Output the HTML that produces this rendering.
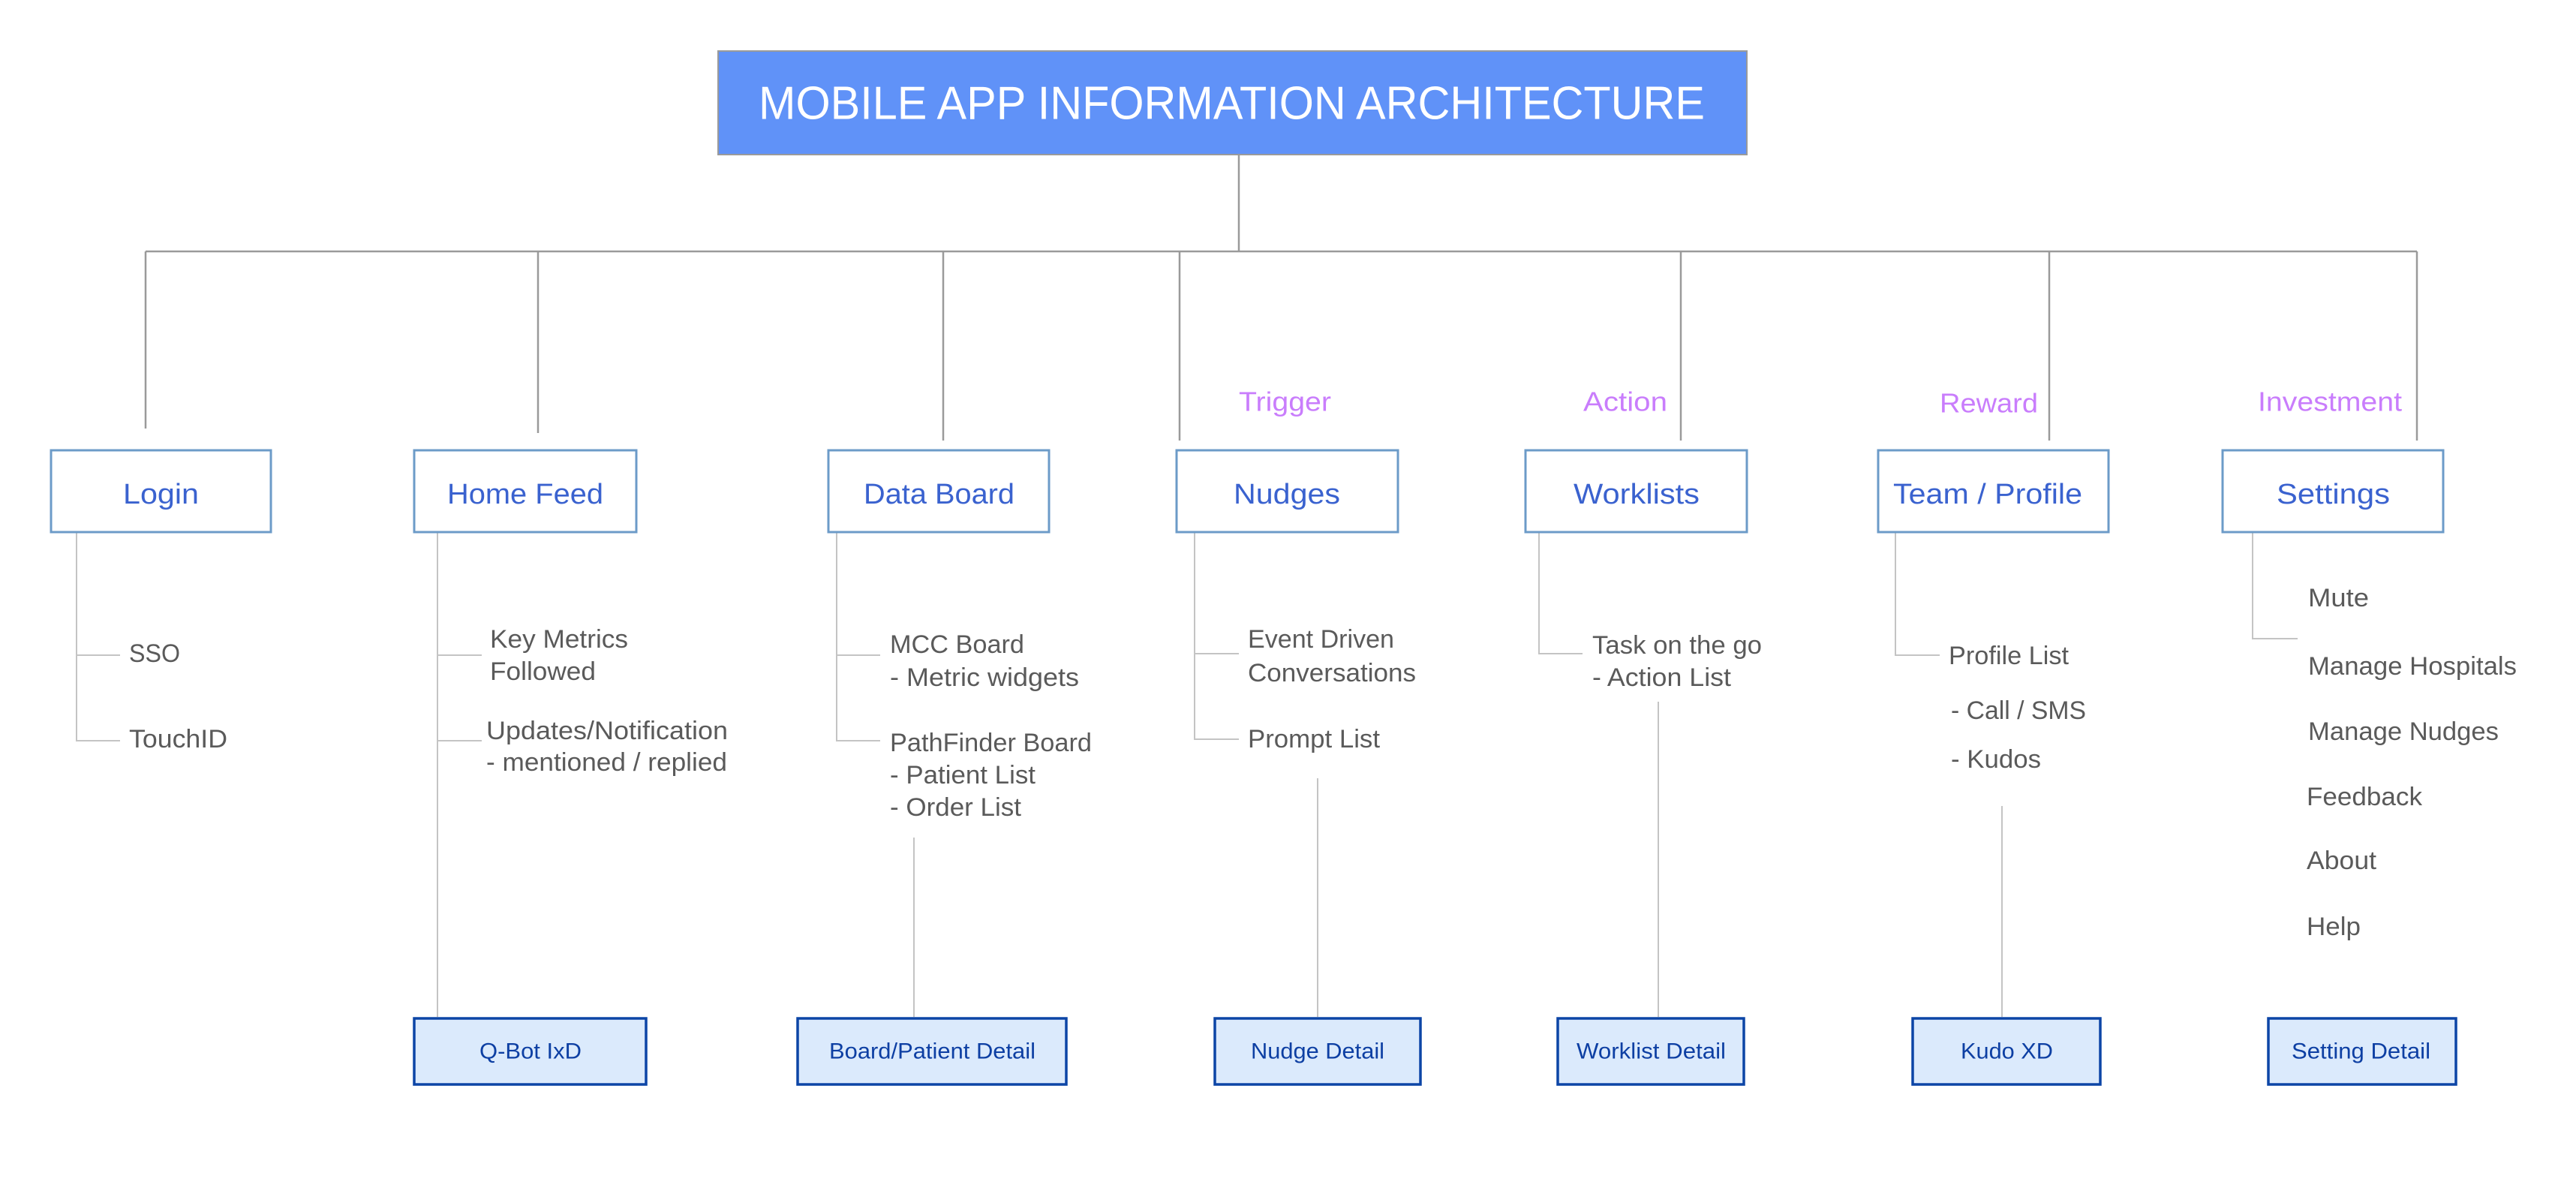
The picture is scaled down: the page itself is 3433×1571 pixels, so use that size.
<!DOCTYPE html>
<html><head><meta charset="utf-8"><style>html,body{margin:0;padding:0;background:#fff}svg{display:block}</style></head>
<body>
<svg xmlns="http://www.w3.org/2000/svg" width="3433" height="1571" viewBox="0 0 3433 1571" font-family="Liberation Sans, sans-serif">
<rect width="3433" height="1571" fill="#fff"/>
<!-- title -->
<rect x="957" y="68" width="1371" height="138" fill="#6092f8" stroke="#9a9a9a" stroke-width="2"/>
<text x="1011" y="138" dominant-baseline="central" font-size="62" fill="#fff" textLength="1261" lengthAdjust="spacingAndGlyphs">MOBILE APP INFORMATION ARCHITECTURE</text>
<g stroke="#9a9a9a" stroke-width="2.5" fill="none">
<path d="M1651 205V335M194 335H3221"/>
<path d="M194 335V571M717 335V577M1257 335V587M1572 335V587M2240 335V587M2731 335V587M3221 335V587"/>
</g>
<g stroke="#c4c4c4" stroke-width="2" fill="none">
<path d="M102 709V987H160M102 873H160"/>
<path d="M583 709V1355M583 873H642M583 987H642"/>
<path d="M1115 709V987H1173M1115 873H1173M1218 1116V1355"/>
<path d="M1592 709V985H1651M1592 871H1651M1756 1037V1355"/>
<path d="M2051 709V871H2109M2210 935V1355"/>
<path d="M2526 709V873H2585M2668 1074V1355"/>
<path d="M3002 709V851H3062"/>
</g>
<!-- main boxes -->
<g fill="#fff" stroke="#6c9bc8" stroke-width="3">
<rect x="68" y="600" width="293" height="109"/>
<rect x="552" y="600" width="296" height="109"/>
<rect x="1104" y="600" width="294" height="109"/>
<rect x="1568" y="600" width="295" height="109"/>
<rect x="2033" y="600" width="295" height="109"/>
<rect x="2503" y="600" width="307" height="109"/>
<rect x="2962" y="600" width="294" height="109"/>
</g>
<g font-size="38" fill="#3a62cf" dominant-baseline="central" lengthAdjust="spacingAndGlyphs">
<text x="164" y="659" textLength="101" lengthAdjust="spacingAndGlyphs">Login</text>
<text x="596" y="659" textLength="208" lengthAdjust="spacingAndGlyphs">Home Feed</text>
<text x="1151" y="659" textLength="201" lengthAdjust="spacingAndGlyphs">Data Board</text>
<text x="1644" y="659" textLength="142" lengthAdjust="spacingAndGlyphs">Nudges</text>
<text x="2097" y="659" textLength="168" lengthAdjust="spacingAndGlyphs">Worklists</text>
<text x="2523" y="659" textLength="252" lengthAdjust="spacingAndGlyphs">Team / Profile</text>
<text x="3034" y="659" textLength="151" lengthAdjust="spacingAndGlyphs">Settings</text>
</g>
<g font-size="36" fill="#c97dfc" dominant-baseline="central">
<text x="1651" y="535" textLength="123" lengthAdjust="spacingAndGlyphs">Trigger</text>
<text x="2110" y="535" textLength="112" lengthAdjust="spacingAndGlyphs">Action</text>
<text x="2585" y="537" textLength="131" lengthAdjust="spacingAndGlyphs">Reward</text>
<text x="3009" y="535" textLength="192" lengthAdjust="spacingAndGlyphs">Investment</text>
</g>
<g font-size="34" fill="#5a5a5a" dominant-baseline="central">
<text x="172" y="871" textLength="68" lengthAdjust="spacingAndGlyphs">SSO</text>
<text x="172" y="985" textLength="131" lengthAdjust="spacingAndGlyphs">TouchID</text>
<text x="653" y="852" textLength="184" lengthAdjust="spacingAndGlyphs">Key Metrics</text>
<text x="653" y="895" textLength="141" lengthAdjust="spacingAndGlyphs">Followed</text>
<text x="648" y="974" textLength="322" lengthAdjust="spacingAndGlyphs">Updates/Notification</text>
<text x="648" y="1016" textLength="321" lengthAdjust="spacingAndGlyphs">- mentioned / replied</text>
<text x="1186" y="859" textLength="179" lengthAdjust="spacingAndGlyphs">MCC Board</text>
<text x="1186" y="903" textLength="252" lengthAdjust="spacingAndGlyphs">- Metric widgets</text>
<text x="1186" y="990" textLength="269" lengthAdjust="spacingAndGlyphs">PathFinder Board</text>
<text x="1186" y="1033" textLength="194" lengthAdjust="spacingAndGlyphs">- Patient List</text>
<text x="1186" y="1076" textLength="175" lengthAdjust="spacingAndGlyphs">- Order List</text>
<text x="1663" y="852" textLength="195" lengthAdjust="spacingAndGlyphs">Event Driven</text>
<text x="1663" y="897" textLength="224" lengthAdjust="spacingAndGlyphs">Conversations</text>
<text x="1663" y="985" textLength="176" lengthAdjust="spacingAndGlyphs">Prompt List</text>
<text x="2122" y="860" textLength="226" lengthAdjust="spacingAndGlyphs">Task on the go</text>
<text x="2122" y="903" textLength="185" lengthAdjust="spacingAndGlyphs">- Action List</text>
<text x="2597" y="874" textLength="160" lengthAdjust="spacingAndGlyphs">Profile List</text>
<text x="2600" y="947" textLength="180" lengthAdjust="spacingAndGlyphs">- Call / SMS</text>
<text x="2600" y="1012" textLength="120" lengthAdjust="spacingAndGlyphs">- Kudos</text>
<text x="3076" y="797" textLength="81" lengthAdjust="spacingAndGlyphs">Mute</text>
<text x="3076" y="888" textLength="278" lengthAdjust="spacingAndGlyphs">Manage Hospitals</text>
<text x="3076" y="975" textLength="254" lengthAdjust="spacingAndGlyphs">Manage Nudges</text>
<text x="3074" y="1062" textLength="154" lengthAdjust="spacingAndGlyphs">Feedback</text>
<text x="3074" y="1147" textLength="93" lengthAdjust="spacingAndGlyphs">About</text>
<text x="3074" y="1235" textLength="72" lengthAdjust="spacingAndGlyphs">Help</text>
</g>
<!-- bottom boxes -->
<g fill="#dbeafc" stroke="#0c45a6" stroke-width="3.5">
<rect x="552" y="1357" width="309" height="88"/>
<rect x="1063" y="1357" width="358" height="88"/>
<rect x="1619" y="1357" width="274" height="88"/>
<rect x="2076" y="1357" width="248" height="88"/>
<rect x="2549" y="1357" width="250" height="88"/>
<rect x="3023" y="1357" width="250" height="88"/>
</g>
<g font-size="30" fill="#0d3fa3" dominant-baseline="central">
<text x="639" y="1401" textLength="136" lengthAdjust="spacingAndGlyphs">Q-Bot IxD</text>
<text x="1105" y="1401" textLength="275" lengthAdjust="spacingAndGlyphs">Board/Patient Detail</text>
<text x="1667" y="1401" textLength="178" lengthAdjust="spacingAndGlyphs">Nudge Detail</text>
<text x="2101" y="1401" textLength="199" lengthAdjust="spacingAndGlyphs">Worklist Detail</text>
<text x="2613" y="1401" textLength="123" lengthAdjust="spacingAndGlyphs">Kudo XD</text>
<text x="3054" y="1401" textLength="185" lengthAdjust="spacingAndGlyphs">Setting Detail</text>
</g>
</svg>
</body></html>
